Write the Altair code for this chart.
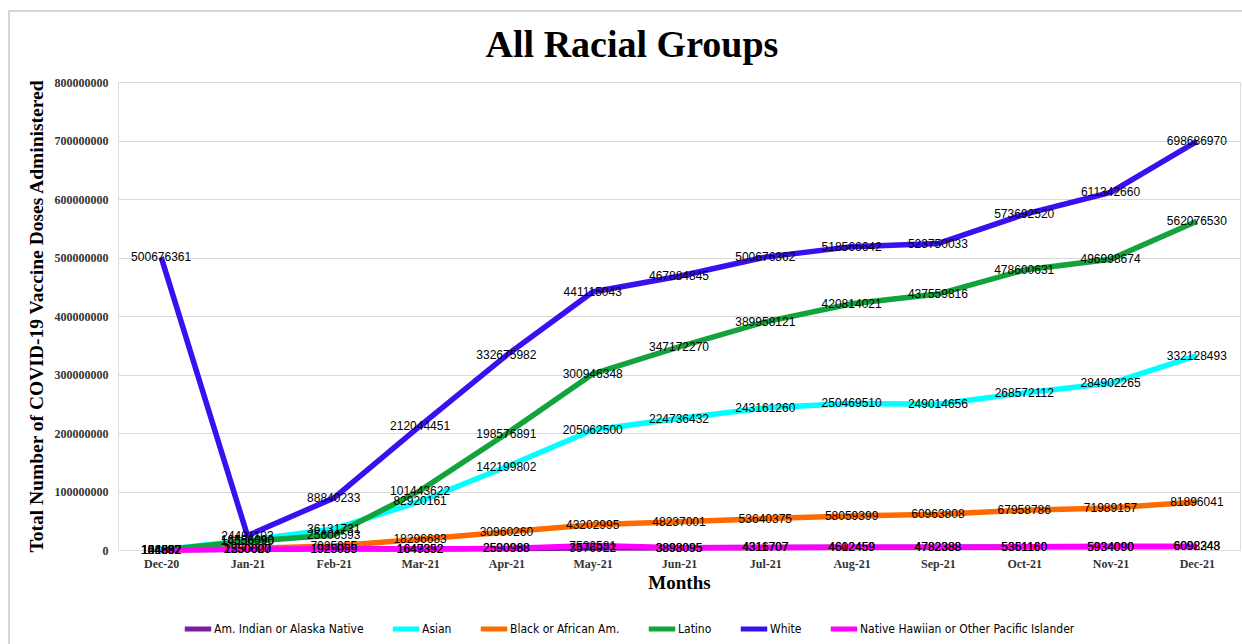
import altair as alt
import pandas as pd

months = ["Dec-20", "Jan-21", "Feb-21", "Mar-21", "Apr-21", "May-21", "Jun-21",
          "Jul-21", "Aug-21", "Sep-21", "Oct-21", "Nov-21", "Dec-21"]

series_names = ["Am. Indian or Alaska Native", "Asian", "Black or African Am.",
                "Latino", "White", "Native Hawiian or Other Pacific Islander"]
series_colors = ["#7B1FA2", "#00FFFF", "#FF6A00", "#12A33C", "#3A10F0", "#FF00FF"]

am_indian = [104697, 1250000, 1925059, 1647352, 2590968, 3576922, 3893095,
             4311707, 4602459, 4782388, 5351160, 5934090, 6092343]
asian = [154882, 16556090, 36131731, 82920161, 142199802, 205062500, 224736432,
         243161260, 250469510, 249014656, 268572112, 284902265, 332128493]
black = [124882, 2530627, 7025055, 18296683, 30960260, 43202995, 48237001,
         53640375, 58059399, 60963808, 67958786, 71989157, 81896041]
latino = [146892, 14556990, 25606593, 101443622, 198576891, 300946348, 347172270,
          389958121, 420814021, 437559816, 478600631, 496998674, 562076530]
white = [500676361, 24491103, 88840233, 212044451, 332675982, 441115043, 467884845,
         500676362, 518566642, 523750033, 573692520, 611342660, 698686970]
nhpi = [102557, 1350000, 1925055, 1649392, 2590988, 7532581, 3898095,
        4316707, 4612459, 4782388, 5361160, 5934090, 6098248]

chart_title = "All Racial Groups"

all_series = [am_indian, asian, black, latino, white, nhpi]

rows = []
for order, (name, vals) in enumerate(zip(series_names, all_series)):
    for m, v in zip(months, vals):
        rows.append({"Month": m, "Group": name, "Doses": v, "order": order})
df = pd.DataFrame(rows)

SERIF = "Liberation Serif"
LABEL_FONT = "Liberation Sans"
NARROW = "Liberation Sans Narrow, DejaVu Sans Condensed, Liberation Sans"

x_enc = alt.X("Month:N", sort=months,
              scale=alt.Scale(type="point", padding=0.5),
              axis=alt.Axis(title="Months", labelAngle=0, ticks=False, domain=False,
                            labelFont=SERIF, labelFontWeight="bold", labelFontSize=12,
                            labelColor="#333333", labelPadding=8,
                            titleFont=SERIF, titleFontWeight="bold", titleFontSize=19,
                            titlePadding=4, titleColor="#000000"))
y_enc = alt.Y("Doses:Q",
              scale=alt.Scale(domain=[0, 800000000], nice=False),
              axis=alt.Axis(title="Total Number of COVID-19 Vaccine Doses Administered",
                            values=[i * 100000000 for i in range(9)], format="d",
                            ticks=False, domain=False, grid=True,
                            gridColor="#d9d9d9", gridWidth=1,
                            labelFont=SERIF, labelFontWeight="bold", labelFontSize=12,
                            labelColor="#333333", labelPadding=10,
                            titleFont=SERIF, titleFontWeight="bold", titleFontSize=19.5,
                            titlePadding=8, titleColor="#000000"))

color_enc = alt.Color("Group:N",
                      scale=alt.Scale(domain=series_names, range=series_colors),
                      legend=alt.Legend(title=None, orient="none", direction="horizontal",
                                        legendX=64, legendY=531,
                                        symbolType="stroke", symbolSize=700,
                                        symbolStrokeWidth=5, labelOffset=0,
                                        columnPadding=18, padding=0, labelLimit=0,
                                        labelFont=NARROW, labelFontSize=12,
                                        labelColor="#000000"))

lines = alt.Chart(df).mark_line(strokeWidth=5.5).encode(
    x=x_enc, y=y_enc, color=color_enc, order=alt.Order("order:Q"),
    detail="Group:N"
)

labels = alt.Chart(df).mark_text(font=LABEL_FONT, fontSize=12, color="#000000",
                                 align="center", baseline="middle").encode(
    x=alt.X("Month:N", sort=months), y="Doses:Q", text=alt.Text("Doses:Q", format="d")
)

frame = alt.Chart(alt.Data(values=[{"a": 1}])).mark_rect(
    fill=None, stroke="#c8c8c8", strokeWidth=1.5).encode(
    x=alt.value(-109), x2=alt.value(1140), y=alt.value(-71), y2=alt.value(600)
)

title_mark = alt.Chart(alt.Data(values=[{"t": chart_title}])).mark_text(
    font=SERIF, fontWeight="bold", fontSize=38, color="#000000",
    align="center", baseline="alphabetic").encode(
    x=alt.value(514), y=alt.value(-25), text="t:N"
)

chart = alt.layer(frame, lines, labels, title_mark).properties(
    width=1122, height=468,
    autosize=alt.AutoSizeParams(type="none"),
    padding={"left": 118, "top": 82, "right": 2, "bottom": 94},
).configure_view(stroke=None).configure(background="white")

chart.save("out.html", embed_options={"renderer": "svg", "actions": False})
